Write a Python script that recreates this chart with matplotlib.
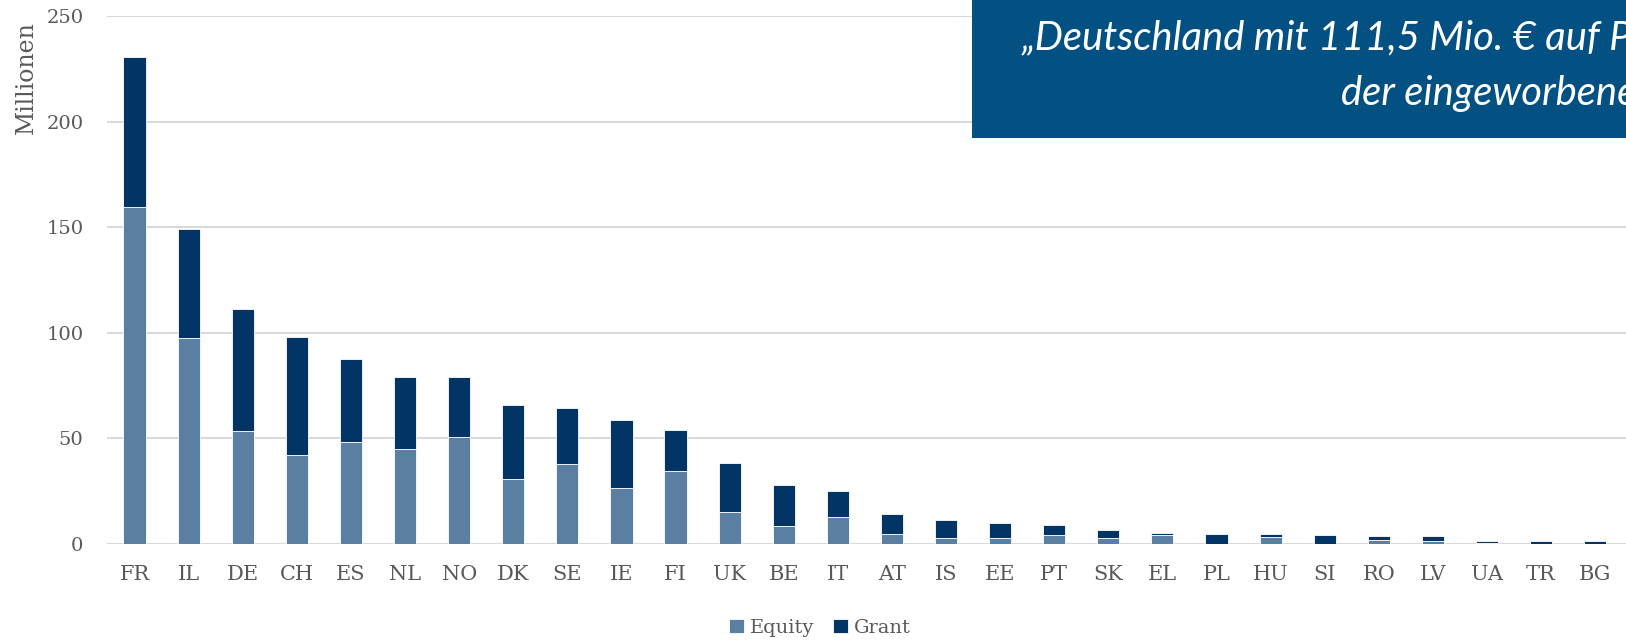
import matplotlib
matplotlib.use("Agg")
import matplotlib.pyplot as plt
import numpy as np
from matplotlib.patches import Rectangle

# ── Data (Mio. EUR) ───────────────────────────────────────────────────────
countries = ["FR", "IL", "DE", "CH", "ES", "NL", "NO", "DK", "SE", "IE",
             "FI", "UK", "BE", "IT", "AT", "IS", "EE", "PT", "SK", "EL",
             "PL", "HU", "SI", "RO", "LV", "UA", "TR", "BG"]
equity = [159.8, 97.5, 53.5, 42.1, 48.2, 44.9, 50.6, 30.6, 37.8, 26.6,
          34.8, 15.2, 8.7, 12.8, 4.9, 2.7, 2.9, 4.2, 2.8, 4.3,
          0.0, 3.1, 0.0, 2.0, 1.3, 0.3, 0.0, 0.0]
grant = [70.8, 51.5, 58.0, 55.8, 39.5, 34.2, 28.5, 35.2, 26.6, 32.1,
         19.4, 23.2, 19.4, 12.5, 9.5, 8.8, 7.0, 4.7, 3.8, 0.8,
         4.7, 1.6, 4.2, 1.7, 2.4, 1.2, 1.3, 1.3]
yticks = [0, 50, 100, 150, 200, 250]

C_EQUITY = "#5a7fa3"
C_GRANT = "#033466"
C_BOX = "#035082"
C_TEXT = "#595959"
C_GRID = "#d9d9d9"

W, H = 1626, 641
fig = plt.figure(figsize=(W / 100, H / 100), dpi=100)
fig.patch.set_facecolor("white")

# axes: left edge at x=107, zero at y=544, 250 at y=16
ax = fig.add_axes([107 / W, (H - 544) / H, 1 - 107 / W, (544 - 16) / H])
x = np.arange(len(countries))
ax.bar(x, equity, width=0.41, color=C_EQUITY, edgecolor="white",
       linewidth=0.6, label="Equity", zorder=3)
ax.bar(x, grant, width=0.41, bottom=equity, color=C_GRANT, edgecolor="white",
       linewidth=0.6, label="Grant", zorder=3)

ax.set_xlim(-0.51, 27.57)
ax.set_ylim(0, 250)
ax.set_yticks(yticks)
ax.set_xticks(x)
ax.set_xticklabels(countries)
ax.grid(axis="y", color=C_GRID, linewidth=1.5, zorder=0)
for s in ax.spines.values():
    s.set_visible(False)
ax.tick_params(length=0, labelcolor=C_TEXT)
ax.tick_params(axis="x", pad=15, labelsize=15)
ax.tick_params(axis="y", pad=17, labelsize=14)
for lbl in ax.get_xticklabels() + ax.get_yticklabels():
    lbl.set_family("DejaVu Serif")

fig.text(26 / W, 1 - 78 / H, "Millionen", rotation=90, ha="center",
         va="center", fontsize=17, color=C_TEXT, family="DejaVu Serif")

leg = fig.legend(loc="center", bbox_to_anchor=(820 / W, 1 - 628 / H),
                 ncol=2, frameon=False, handlelength=0.75, handleheight=0.75,
                 handletextpad=0.3, columnspacing=1.0,
                 prop={"family": "DejaVu Serif", "size": 14})
for t in leg.get_texts():
    t.set_color(C_TEXT)

# quote box, cut off at the right edge as in the source slide
fig.add_artist(Rectangle((972 / W, 1 - 138 / H), 1 - 972 / W + 0.01, 138 / H + 0.01,
                         transform=fig.transFigure, facecolor=C_BOX,
                         edgecolor="none", zorder=5))
fig.text(1021 / W, 1 - 38 / H, "\u201eDeutschland mit 111,5 Mio. \u20ac auf Platz 3",
         ha="left", va="center", color="white", fontsize=28.8, style="italic",
         family="Lato", zorder=6)
fig.text(1341 / W, 1 - 93 / H, "der eingeworbenen Mittel\u201c",
         ha="left", va="center", color="white", fontsize=28.8, style="italic",
         family="Lato", zorder=6)

fig.savefig("out.png", dpi=100, facecolor="white")
